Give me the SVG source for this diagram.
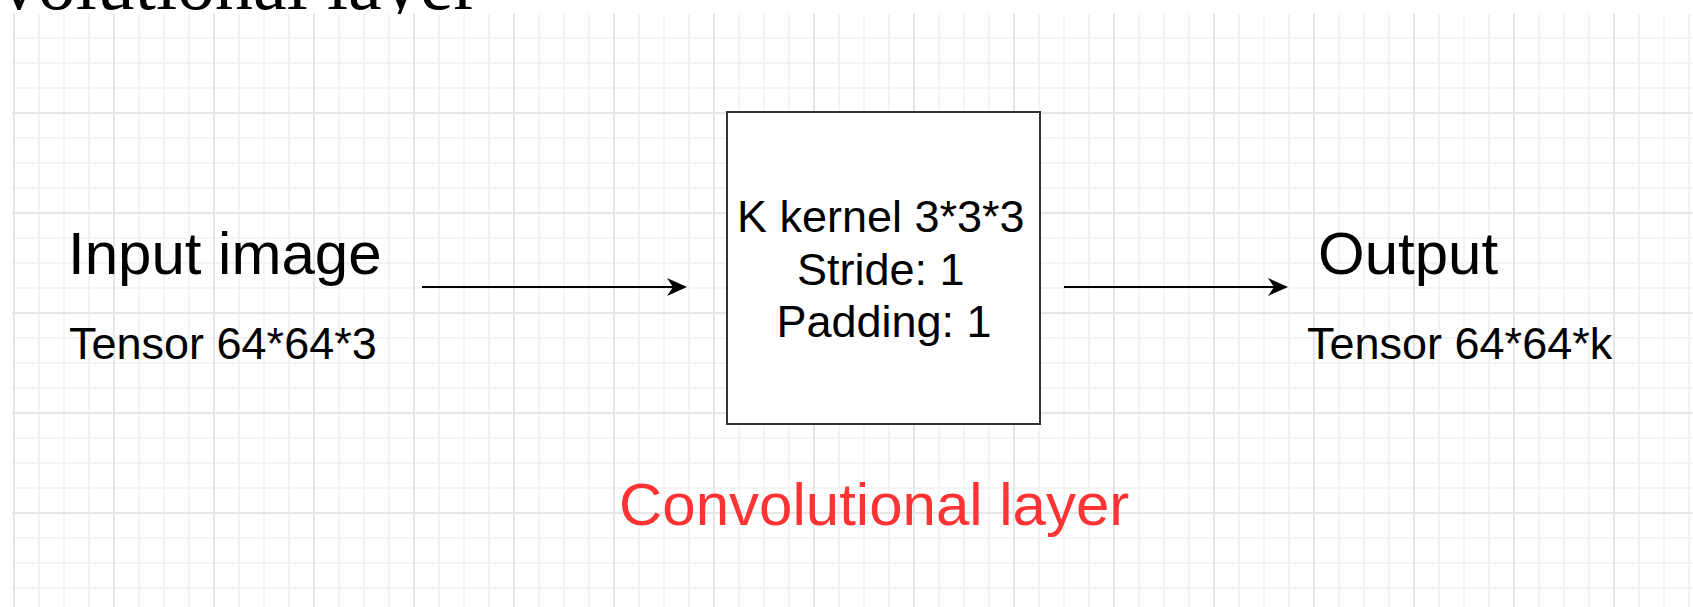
<svg xmlns="http://www.w3.org/2000/svg" width="1693" height="607" viewBox="0 0 1693 607">
  <style>
    .sans { font-family: "Liberation Sans", Arial, sans-serif; fill: #000; }
    .big { font-size: 60px; }
    .mid { font-size: 45px; }
    .minor { stroke: #f3f3f3; stroke-width: 2; fill: none; }
    .major { stroke: #e6e6e6; stroke-width: 2; fill: none; }
    .conn { stroke: #000; stroke-width: 2; fill: none; }
  </style>
  <defs>
    <pattern id="grid" patternUnits="userSpaceOnUse" x="14" y="13" width="100" height="100">
      <path class="minor" d="M25 0V100M50 0V100M75 0V100M0 25H100M0 50H100M0 75H100"/>
      <path class="major" d="M0 0V100M100 0V100M0 0H100M0 100H100"/>
    </pattern>
    <clipPath id="topclip">
      <rect x="0" y="0" width="1693" height="14"/>
    </clipPath>
    <marker id="arrow" markerUnits="userSpaceOnUse" markerWidth="22" markerHeight="20" viewBox="-7 -10 22 20" refX="0" refY="0" orient="auto" overflow="visible">
      <path d="M14 0L-6 -9L0 0L-6 9Z" fill="#000"/>
    </marker>
  </defs>

  <rect x="0" y="0" width="1693" height="607" fill="#fff"/>
  <g id="heading" clip-path="url(#topclip)">
    <text x="-127" y="9" font-family="'Liberation Serif', 'Times New Roman', serif" font-size="76" fill="#000">Convolutional layer</text>
  </g>
  <rect id="grid-bg" x="12" y="14" width="1681" height="593" fill="url(#grid)"/>

  <g id="connectors">
    <path class="conn" d="M422 287H673" marker-end="url(#arrow)"/>
    <path class="conn" d="M1064 287H1274" marker-end="url(#arrow)"/>
  </g>

  <g id="input">
    <text class="sans big" x="68" y="274">Input image</text>
    <text class="sans mid" x="69" y="359">Tensor 64*64*3</text>
  </g>

  <g id="conv">
    <rect x="727" y="112" width="313" height="312" fill="#fff" stroke="#333" stroke-width="2"/>
    <text class="sans mid" text-anchor="middle">
      <tspan x="887" y="232">K kernel 3*3*3</tspan>
      <tspan x="887" y="284.5">Stride: 1</tspan>
      <tspan x="884" y="337">Padding: 1</tspan>
    </text>
  </g>

  <g id="output">
    <text class="sans big" x="1318" y="274">Output</text>
    <text class="sans mid" x="1307" y="359">Tensor 64*64*k</text>
  </g>

  <g id="label">
    <text class="sans" x="619" y="525" font-size="60" style="fill:#FF3333">Convolutional layer</text>
  </g>
</svg>
